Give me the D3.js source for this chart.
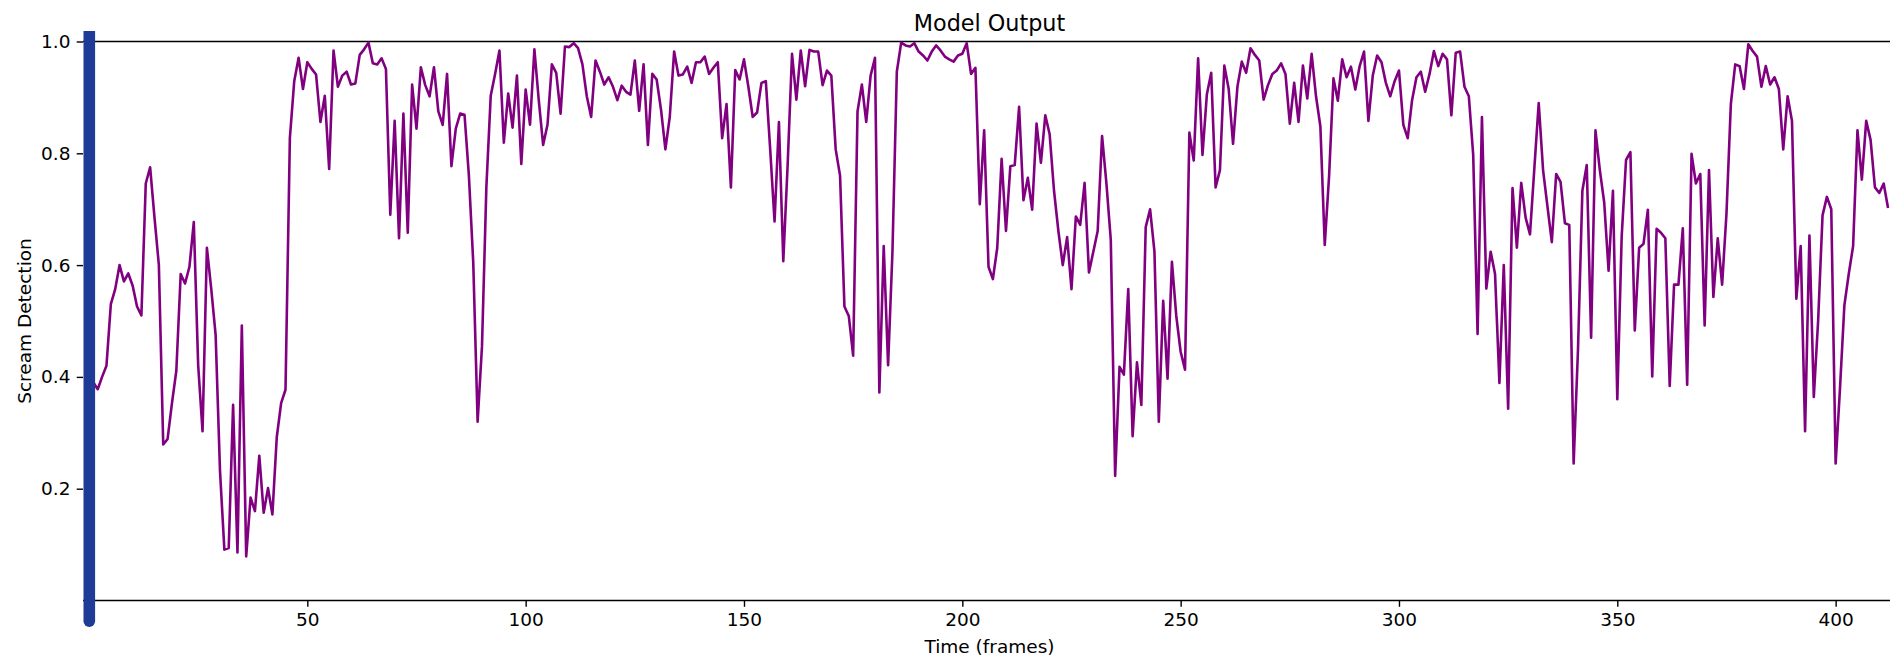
<!DOCTYPE html>
<html>
<head>
<meta charset="utf-8">
<script src="https://cdn.jsdelivr.net/npm/d3@7"></script>
<style>
  html, body { margin: 0; padding: 0; background: #ffffff; }
  svg { display: block; font-family: "DejaVu Sans", sans-serif; }
</style>
</head>
<body>
<svg id="chart" width="1890" height="658"></svg>
<script>
// Per-frame scream detection scores from the model (frame index = array index)
const scores = [
  0.400, 0.390, 0.378, 0.400, 0.420, 0.530, 0.557, 0.600, 0.571, 0.585,
  0.563, 0.526, 0.510, 0.746, 0.775, 0.685, 0.600, 0.279, 0.289, 0.353,
  0.411, 0.584, 0.567, 0.597, 0.677, 0.421, 0.303, 0.631, 0.557, 0.475,
  0.232, 0.091, 0.094, 0.350, 0.086, 0.492, 0.079, 0.184, 0.160, 0.259,
  0.157, 0.201, 0.154, 0.292, 0.353, 0.377, 0.827, 0.929, 0.971, 0.915,
  0.963, 0.951, 0.941, 0.856, 0.903, 0.772, 0.984, 0.919, 0.939, 0.946,
  0.923, 0.925, 0.976, 0.986, 0.998, 0.961, 0.959, 0.970, 0.951, 0.690,
  0.858, 0.648, 0.871, 0.658, 0.923, 0.844, 0.954, 0.922, 0.902, 0.954,
  0.875, 0.851, 0.942, 0.777, 0.844, 0.871, 0.869, 0.760, 0.604, 0.320,
  0.455, 0.739, 0.903, 0.942, 0.984, 0.819, 0.907, 0.846, 0.939, 0.781,
  0.914, 0.851, 0.986, 0.895, 0.815, 0.851, 0.959, 0.944, 0.871, 0.991,
  0.990, 0.997, 0.988, 0.959, 0.902, 0.865, 0.966, 0.946, 0.923, 0.936,
  0.919, 0.895, 0.921, 0.910, 0.905, 0.966, 0.876, 0.959, 0.815, 0.942,
  0.932, 0.878, 0.807, 0.865, 0.982, 0.939, 0.941, 0.955, 0.926, 0.963,
  0.963, 0.973, 0.942, 0.953, 0.963, 0.827, 0.888, 0.739, 0.949, 0.932,
  0.968, 0.919, 0.865, 0.873, 0.926, 0.929, 0.807, 0.678, 0.856, 0.607,
  0.780, 0.978, 0.896, 0.984, 0.920, 0.985, 0.982, 0.982, 0.922, 0.948,
  0.939, 0.807, 0.760, 0.526, 0.509, 0.438, 0.875, 0.923, 0.856, 0.939,
  0.971, 0.372, 0.634, 0.421, 0.624, 0.946, 0.998, 0.993, 0.991, 0.997,
  0.982, 0.975, 0.966, 0.982, 0.993, 0.984, 0.973, 0.968, 0.964, 0.975,
  0.978, 0.997, 0.942, 0.953, 0.709, 0.841, 0.597, 0.575, 0.631, 0.790,
  0.661, 0.777, 0.779, 0.883, 0.716, 0.756, 0.699, 0.853, 0.783, 0.868,
  0.834, 0.733, 0.661, 0.600, 0.650, 0.557, 0.687, 0.672, 0.747, 0.587,
  0.624, 0.661, 0.831, 0.746, 0.645, 0.223, 0.418, 0.404, 0.557, 0.294,
  0.426, 0.350, 0.668, 0.700, 0.624, 0.320, 0.536, 0.397, 0.606, 0.509,
  0.445, 0.413, 0.837, 0.787, 0.970, 0.797, 0.905, 0.944, 0.739, 0.770,
  0.957, 0.915, 0.817, 0.919, 0.964, 0.944, 0.988, 0.976, 0.966, 0.896,
  0.922, 0.942, 0.948, 0.961, 0.942, 0.853, 0.926, 0.856, 0.957, 0.898,
  0.978, 0.902, 0.848, 0.636, 0.760, 0.934, 0.894, 0.968, 0.936, 0.955,
  0.914, 0.956, 0.982, 0.858, 0.939, 0.975, 0.963, 0.926, 0.902, 0.929,
  0.948, 0.851, 0.827, 0.895, 0.936, 0.946, 0.910, 0.942, 0.983, 0.956,
  0.978, 0.968, 0.868, 0.980, 0.982, 0.919, 0.902, 0.797, 0.477, 0.865,
  0.558, 0.624, 0.584, 0.389, 0.600, 0.343, 0.738, 0.631, 0.747, 0.685,
  0.655, 0.773, 0.890, 0.770, 0.705, 0.641, 0.763, 0.749, 0.675, 0.672,
  0.245, 0.450, 0.733, 0.779, 0.470, 0.841, 0.770, 0.712, 0.590, 0.733,
  0.360, 0.651, 0.788, 0.802, 0.483, 0.631, 0.638, 0.699, 0.401, 0.665,
  0.658, 0.648, 0.384, 0.565, 0.565, 0.666, 0.386, 0.799, 0.746, 0.763,
  0.492, 0.770, 0.543, 0.648, 0.565, 0.692, 0.888, 0.959, 0.956, 0.915,
  0.995, 0.983, 0.973, 0.919, 0.956, 0.923, 0.936, 0.915, 0.807, 0.902,
  0.858, 0.540, 0.634, 0.303, 0.653, 0.364, 0.502, 0.689, 0.722, 0.700,
  0.245, 0.380, 0.528, 0.584, 0.634, 0.841, 0.753, 0.858, 0.824, 0.739,
  0.729, 0.746, 0.702
];

// Axis ticks and labels
const xTickValues = [0, 50, 100, 150, 200, 250, 300, 350, 400];
const yTickValues = [0.2, 0.4, 0.6, 0.8, 1.0];
const chartTitle = "Model Output";
const xAxisTitle = "Time (frames)";
const yAxisTitle = "Scream Detection";
const playheadFrame = 0;

const svg = d3.select("#chart");

// Axes box (the right edge runs past the canvas)
const axLeft = 83, axRight = 1896, axTop = 41.5, axBottom = 600.5;
const pxPerFrame = 4.3666;
const x = d3.scaleLinear().domain([0, 412]).range([89, 89 + 412 * pxPerFrame]);
const y = d3.scaleLinear().domain([0, 1]).range([axBottom, axTop]);

const tickLen = 6.3, tickPad = 6.3, spineW = 1.4;
const labelSize = "18.5px", titleSize = "22.3px";

// Spines: top and bottom
svg.append("line")
  .attr("x1", axLeft).attr("x2", axRight)
  .attr("y1", axTop).attr("y2", axTop)
  .attr("stroke", "#000").attr("stroke-width", spineW);
svg.append("line")
  .attr("x1", axLeft).attr("x2", axRight)
  .attr("y1", axBottom).attr("y2", axBottom)
  .attr("stroke", "#000").attr("stroke-width", spineW);

// X axis
const gx = svg.append("g")
  .attr("transform", `translate(0,${axBottom})`)
  .call(d3.axisBottom(x).tickValues(xTickValues).tickFormat(d3.format("d"))
    .tickSize(tickLen).tickPadding(tickPad));
gx.select(".domain").remove();
gx.selectAll(".tick line").attr("stroke", "#000").attr("stroke-width", spineW);
gx.selectAll(".tick text")
  .attr("fill", "#000")
  .style("font-family", '"DejaVu Sans", sans-serif')
  .style("font-size", labelSize);

// Y axis
const gy = svg.append("g")
  .attr("transform", `translate(${axLeft},0)`)
  .call(d3.axisLeft(y).tickValues(yTickValues).tickFormat(d3.format(".1f"))
    .tickSize(tickLen).tickPadding(tickPad));
gy.select(".domain").remove();
gy.selectAll(".tick line").attr("stroke", "#000").attr("stroke-width", spineW);
gy.selectAll(".tick text")
  .attr("fill", "#000")
  .style("font-family", '"DejaVu Sans", sans-serif')
  .style("font-size", labelSize);

// Score trace
const line = d3.line()
  .x((d, i) => x(i))
  .y(d => y(d));
svg.append("path")
  .datum(scores)
  .attr("d", line)
  .attr("fill", "none")
  .attr("stroke", "#800080")
  .attr("stroke-width", 2.6)
  .attr("stroke-linejoin", "round");

// Playhead marker at the current frame
const phX = x(playheadFrame) + 0.3, phW = 11.6, phTop = 31, phBottom = 627;
const r = phW / 2;
svg.append("path")
  .attr("d", `M${phX - r},${phTop} L${phX + r},${phTop} L${phX + r},${phBottom - r}
              A${r},${r} 0 0 1 ${phX - r},${phBottom - r} Z`)
  .attr("fill", "#1e3b96");

// Titles
svg.append("text")
  .attr("x", (axLeft + axRight) / 2).attr("y", axTop - 10.8)
  .attr("text-anchor", "middle")
  .style("font-size", titleSize).attr("fill", "#000")
  .text(chartTitle);

svg.append("text")
  .attr("x", (axLeft + axRight) / 2).attr("y", 653)
  .attr("text-anchor", "middle")
  .style("font-size", labelSize).attr("fill", "#000")
  .text(xAxisTitle);

svg.append("text")
  .attr("transform", `translate(31,${(axTop + axBottom) / 2}) rotate(-90)`)
  .attr("text-anchor", "middle")
  .style("font-size", labelSize).attr("fill", "#000")
  .text(yAxisTitle);
</script>
</body>
</html>
